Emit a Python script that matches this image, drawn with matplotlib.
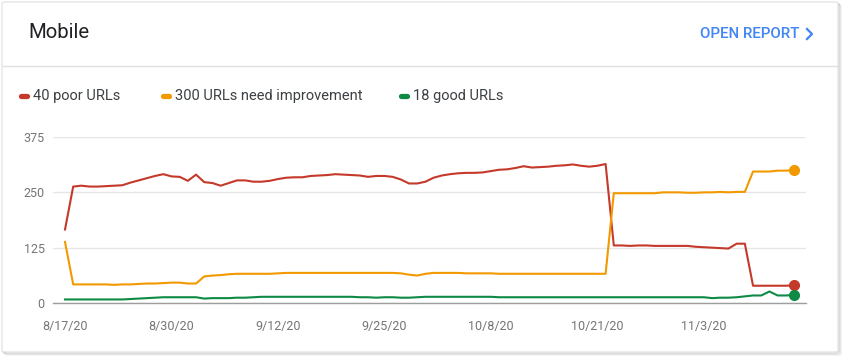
import matplotlib
matplotlib.use("Agg")
import matplotlib.pyplot as plt
import matplotlib.dates as mdates
from matplotlib.lines import Line2D
from matplotlib.patches import FancyBboxPatch
import pandas as pd

# daily counts, 8/17/20 .. 11/14/20
start = "2020-08-17"
poor = [166, 263, 265, 263, 263, 264, 265, 266, 272, 277,
        282, 287, 291, 286, 285, 276, 290, 273, 271, 265,
        271, 277, 277, 274, 274, 276, 280, 283, 284, 284,
        287, 288, 289, 291, 290, 289, 288, 285, 287, 287,
        285, 279, 270, 270, 274, 283, 288, 291, 293, 294,
        294, 295, 298, 301, 302, 305, 309, 306, 307, 308,
        310, 311, 313, 310, 308, 310, 314, 130, 130, 129,
        130, 130, 129, 129, 129, 129, 129, 127, 126, 125,
        124, 123, 134, 134, 39, 39, 39, 39, 39, 40]
need_impr = [138, 42, 42, 42, 42, 42, 41, 42, 42, 43,
             44, 44, 45, 46, 46, 44, 44, 60, 62, 63,
             65, 66, 66, 66, 66, 66, 67, 68, 68, 68,
             68, 68, 68, 68, 68, 68, 68, 68, 68, 68,
             68, 67, 64, 62, 66, 68, 68, 68, 68, 67,
             67, 67, 67, 66, 66, 66, 66, 66, 66, 66,
             66, 66, 66, 66, 66, 66, 66, 248, 248, 248,
             248, 248, 248, 250, 250, 250, 249, 249, 250, 250,
             251, 250, 251, 251, 297, 297, 297, 299, 299, 300]
good = [8, 8, 8, 8, 8, 8, 8, 8, 9, 10,
        11, 12, 13, 13, 13, 13, 13, 10, 11, 11,
        11, 12, 12, 13, 14, 14, 14, 14, 14, 14,
        14, 14, 14, 14, 14, 14, 13, 13, 12, 13,
        13, 12, 12, 13, 14, 14, 14, 14, 14, 14,
        14, 14, 14, 13, 13, 13, 13, 13, 13, 13,
        13, 13, 13, 13, 13, 13, 13, 13, 13, 13,
        13, 13, 13, 13, 13, 13, 13, 13, 13, 11,
        12, 12, 13, 15, 17, 17, 26, 17, 17, 18]
series_labels = ["40 poor URLs", "300 URLs need improvement", "18 good URLs"]
colors = ["#c5392a", "#f29900", "#0f8a45"]
tick_labels = ["8/17/20", "8/30/20", "9/12/20", "9/25/20", "10/8/20", "10/21/20", "11/3/20"]
y_ticks = [0, 125, 250, 375]

dates = pd.date_range(start, periods=len(poor), freq="D")

W, H = 846, 359
fig = plt.figure(figsize=(W / 100, H / 100), dpi=100)
fig.patch.set_facecolor("white")
plt.rcParams["font.family"] = ["Roboto", "DejaVu Sans"]

def fx(px):
    return px / W

def fy(py):
    return 1 - py / H

# card with soft shadow
for off, a in [(3, 0.05), (2, 0.07), (1, 0.10)]:
    fig.patches.append(FancyBboxPatch((fx(2 + off), fy(352 + off)), fx(836), 350 / H,
                                      boxstyle="round,pad=0,rounding_size=0.004",
                                      transform=fig.transFigure, facecolor="none",
                                      edgecolor=(0, 0, 0, a), linewidth=1.2, zorder=0))
fig.patches.append(FancyBboxPatch((fx(2), fy(352)), fx(836), 350 / H,
                                  boxstyle="round,pad=0,rounding_size=0.004",
                                  transform=fig.transFigure, facecolor="white",
                                  edgecolor="#e0e0e0", linewidth=0.8, zorder=1))

fig.text(fx(28), fy(33), "Mobile", fontsize=14.7, color="#202124", va="center", ha="left")
fig.text(fx(700), fy(34), "OPEN REPORT", fontsize=10.8, color="#4285f4", weight="medium",
         va="center", ha="left")
fig.lines.append(Line2D([fx(807), fx(812), fx(807)], [fy(29), fy(34), fy(39)],
                        transform=fig.transFigure, color="#4285f4", linewidth=1.6))
fig.lines.append(Line2D([fx(3), fx(837)], [fy(66), fy(66)], transform=fig.transFigure,
                        color="#e0e0e0", linewidth=1))

# legend
leg_x = [20, 162, 400]
for lx, lab, c in zip(leg_x, series_labels, colors):
    fig.lines.append(Line2D([fx(lx + 1), fx(lx + 7)], [fy(96), fy(96)], transform=fig.transFigure,
                            color=c, linewidth=3.8, solid_capstyle="round"))
    fig.text(fx(lx + 13), fy(96), lab, fontsize=10.5, color="#3c4043", va="center", ha="left")

ax = fig.add_axes([fx(53), fy(303), fx(806) - fx(53), (303 - 137) / H])
ax.set_zorder(5)
ax.set_facecolor("none")
for vals, c in zip([poor, need_impr, good], colors):
    ax.plot(dates, vals, color=c, linewidth=1.5, clip_on=False, zorder=3)
    ax.plot(dates[-1:], vals[-1:], "o", color=c, markersize=7, clip_on=False, zorder=4)

d0 = mdates.date2num(dates[0])
ax.set_xlim(d0 - 1.465, d0 + 90.465)
ax.set_ylim(0, 375)
ax.set_yticks(y_ticks)
ax.set_yticklabels([str(v) for v in y_ticks])
ax.set_xticks(dates[::13])
ax.set_xticklabels(tick_labels)
ax.grid(axis="y", color="#e6e6e6", linewidth=1)
ax.set_axisbelow(True)
for s in ["top", "left", "right"]:
    ax.spines[s].set_visible(False)
ax.spines["bottom"].set_color("#9e9e9e")
ax.spines["bottom"].set_linewidth(1)
ax.spines["bottom"].set_zorder(2)
ax.tick_params(axis="both", length=0, labelsize=9, labelcolor="#757575")
ax.tick_params(axis="x", pad=12)
ax.tick_params(axis="y", pad=6)

fig.savefig("out.png", dpi=100)
